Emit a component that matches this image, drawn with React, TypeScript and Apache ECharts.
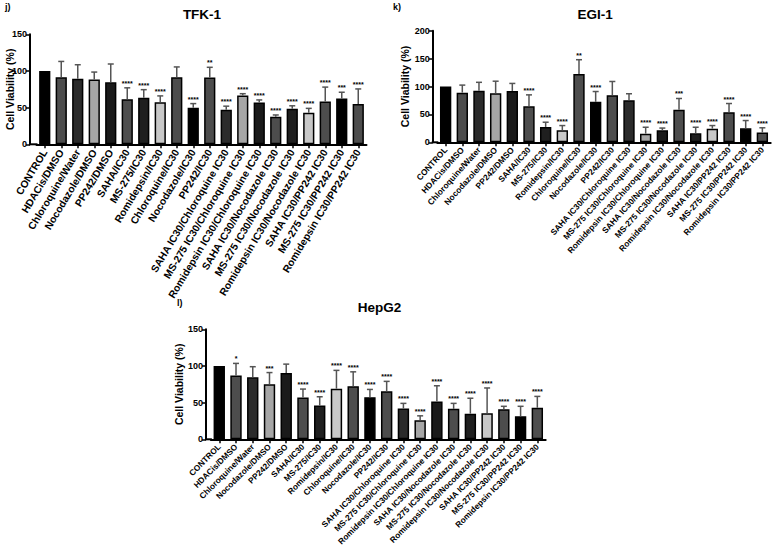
import React, { useEffect, useRef } from "react";
import * as echarts from "echarts";

const categories = [
  "CONTROL",
  "HDACis/DMSO",
  "Chloroquine/Water",
  "Nocodazole/DMSO",
  "PP242/DMSO",
  "SAHA/IC30",
  "MS-275/IC30",
  "Romidepsin/IC30",
  "Chloroquine/IC30",
  "Nocodazole/IC30",
  "PP242/IC30",
  "SAHA IC30/Chloroquine IC30",
  "MS-275 IC30/Chloroquine IC30",
  "Romidepsin IC30/Chloroquine IC30",
  "SAHA IC30/Nocodazole IC30",
  "MS-275 IC30/Nocodazole IC30",
  "Romidepsin IC30/Nocodazole IC30",
  "SAHA IC30/PP242 IC30",
  "MS-275 IC30/PP242 IC30",
  "Romidepsin IC30/PP242 IC30",
];

const barColors = [
  "#000000", "#4d4d4d", "#2b2b2b", "#a6a6a6", "#1a1a1a",
  "#4d4d4d", "#1f1f1f", "#c8c8c8", "#4d4d4d", "#000000",
  "#4d4d4d", "#2b2b2b", "#a6a6a6", "#1a1a1a", "#4d4d4d",
  "#1f1f1f", "#c8c8c8", "#4d4d4d", "#000000", "#4d4d4d",
];

// TFK-1
const tfkMean = [100, 91.5, 89.5, 88.5, 84.5, 61.5, 63.5, 57.5, 91.5, 50, 91, 47, 66.5, 57, 37.5, 48.5, 43, 58.5, 62.5, 55];
const tfkErrTop = [100, 113, 108.5, 98.5, 109.5, 77, 74.5, 66, 105.5, 55.5, 105, 52, 69, 60.5, 40, 52.5, 49, 78, 71, 75.5];
const tfkStars = ["", "", "", "", "", "****", "****", "****", "", "****", "**", "****", "****", "****", "****", "****", "****", "****", "***", "****"];

// EGI-1
const egiMean = [100, 89, 92.5, 88, 92, 64.5, 27.5, 21.5, 122.5, 72.5, 84.5, 75.5, 15.5, 21.5, 58.5, 16, 24.5, 54, 25, 17.5];
const egiErrTop = [100, 102.5, 107.5, 109.5, 105.5, 85, 36, 30, 148, 91, 109, 87, 27, 25.5, 78.5, 27, 30, 69.5, 39, 26];
const egiStars = ["", "", "", "", "", "****", "****", "****", "**", "****", "", "", "****", "****", "***", "****", "****", "****", "****", "****"];

// HepG2
const hepMean = [100, 87, 84.5, 75, 90.5, 57, 46, 69, 72.5, 57.5, 65.5, 42, 26, 51.5, 41.5, 35, 35.5, 41, 31.5, 43];
const hepErrTop = [100, 103.5, 99, 91, 102.5, 68.5, 58, 94, 92, 68, 79, 49, 32, 73, 49, 56, 70, 45, 45, 58.5];
const hepStars = ["", "*", "", "***", "", "****", "****", "****", "****", "****", "****", "****", "****", "****", "****", "****", "****", "****", "****", "****"];

const yTicksTFK = { min: 0, max: 150, interval: 50 };
const yTicksEGI = { min: 0, max: 200, interval: 50 };
const yTicksHep = { min: 0, max: 150, interval: 50 };

const FONT = "'Liberation Sans', Arial, Helvetica, sans-serif";

const panels = [
  { title: "TFK-1", label: "j)", mean: tfkMean, err: tfkErrTop, stars: tfkStars, ticks: yTicksTFK,
    grid: { left: 36.5, top: 34.3, width: 330, height: 110 }, offset: 6.5, nameGap: 15, rotate: 59, fs: 10.3,
    titlePos: { x: 202, y: 7 }, labelPos: { x: 5, y: 2 } },
  { title: "EGI-1", label: "k)", mean: egiMean, err: egiErrTop, stars: egiStars, ticks: yTicksEGI,
    grid: { left: 437.3, top: 30.7, width: 333.4, height: 111.6 }, offset: 4.6, nameGap: 22, rotate: 48, fs: 8.4,
    titlePos: { x: 595, y: 7 }, labelPos: { x: 393, y: 2 } },
  { title: "HepG2", label: "l)", mean: hepMean, err: hepErrTop, stars: hepStars, ticks: yTicksHep,
    grid: { left: 210.9, top: 329.3, width: 334.8, height: 110 }, offset: 4.9, nameGap: 21.5, rotate: 45, fs: 8.3,
    titlePos: { x: 379.5, y: 300 }, labelPos: { x: 177, y: 298 } },
];

export default function App() {
  const ref = useRef<HTMLDivElement>(null);
  useEffect(() => {
    if (!ref.current) return;
    const chart = echarts.init(ref.current, null, { renderer: "svg" });

    const grids: any[] = [];
    const xAxes: any[] = [];
    const yAxes: any[] = [];
    const series: any[] = [];
    const titles: any[] = [];
    const graphics: any[] = [];

    panels.forEach((p, gi) => {
      grids.push({ ...p.grid, containLabel: false, outerBoundsMode: "none" });
      xAxes.push({
        type: "category",
        gridIndex: gi,
        data: categories,
        axisLine: { show: true, lineStyle: { color: "#000", width: 2 } },
        axisTick: { show: true, alignWithLabel: true, length: 4, lineStyle: { color: "#000", width: 1.5 } },
        axisLabel: {
          interval: 0,
          rotate: p.rotate,
          fontSize: p.fs,
          fontWeight: "bold",
          color: "#000",
          fontFamily: FONT,
          margin: 6,
        },
        splitLine: { show: false },
      });
      yAxes.push({
        type: "value",
        gridIndex: gi,
        min: p.ticks.min,
        max: p.ticks.max,
        interval: p.ticks.interval,
        offset: p.offset,
        name: "Cell Viability (%)",
        nameLocation: "middle",
        nameGap: p.nameGap,
        nameMoveOverlap: false,
        nameTextStyle: { fontSize: 10.5, fontWeight: "bold", color: "#000", fontFamily: FONT },
        axisLine: { show: true, lineStyle: { color: "#000", width: 2 } },
        axisTick: { show: true, length: 4, lineStyle: { color: "#000", width: 1.5 } },
        axisLabel: { fontSize: 9, fontWeight: "bold", color: "#000", fontFamily: FONT, margin: 3 },
        splitLine: { show: false },
      });
      series.push({
        type: "bar",
        xAxisIndex: gi,
        yAxisIndex: gi,
        barWidth: "68%",
        data: p.mean.map((v, i) => ({
          value: v,
          itemStyle: { color: barColors[i], borderColor: "#000", borderWidth: 1.5 },
        })),
        z: 2,
      });
      const stars = p.stars;
      series.push({
        type: "custom",
        xAxisIndex: gi,
        yAxisIndex: gi,
        z: 3,
        data: p.mean.map((v, i) => [i, v, p.err[i]]),
        renderItem: (params: any, api: any) => {
          const x = api.value(0);
          const top = api.coord([x, api.value(1)]);
          const e = api.coord([x, api.value(2)]);
          const children: any[] = [];
          const hasErr = api.value(2) > api.value(1);
          if (hasErr) {
            children.push({
              type: "line",
              shape: { x1: top[0], y1: top[1], x2: e[0], y2: e[1] },
              style: { stroke: "#555", lineWidth: 1.5 },
            });
            children.push({
              type: "line",
              shape: { x1: e[0] - 3, y1: e[1], x2: e[0] + 3, y2: e[1] },
              style: { stroke: "#555", lineWidth: 1.5 },
            });
          }
          const s = stars[params.dataIndex];
          if (s) {
            children.push({
              type: "text",
              x: e[0],
              y: e[1] - 1,
              style: {
                text: s,
                fill: "#000",
                fontSize: 7,
                fontWeight: "bold",
                fontFamily: FONT,
                align: "center",
                verticalAlign: "bottom",
              },
            });
          }
          return { type: "group", children };
        },
      });
      titles.push({
        text: p.title,
        left: p.titlePos.x,
        top: p.titlePos.y,
        textAlign: "center",
        padding: 0,
        textStyle: { fontSize: 13.5, fontWeight: "bold", color: "#000", fontFamily: FONT },
      });
      graphics.push({
        type: "text",
        left: p.labelPos.x,
        top: p.labelPos.y,
        style: { text: p.label, fontSize: 9, fontWeight: "bold", fill: "#000", fontFamily: FONT },
      });
    });

    chart.setOption({
      animation: false,
      backgroundColor: "#ffffff",
      title: titles,
      grid: grids,
      xAxis: xAxes,
      yAxis: yAxes,
      series,
      graphic: graphics,
    });

    // extend each x-axis line back to its (offset) y-axis, using the library's own scale
    const extra: any[] = [];
    panels.forEach((p, gi) => {
      const pt = chart.convertToPixel({ gridIndex: gi }, [0, 0]) as number[];
      if (!pt) return;
      const y0 = pt[1];
      extra.push({
        type: "line",
        shape: { x1: p.grid.left - p.offset - 1, y1: y0, x2: p.grid.left + 1, y2: y0 },
        style: { stroke: "#000", lineWidth: 2 },
        z: 10,
      });
    });
    chart.setOption({ graphic: [...graphics, ...extra] });

    return () => chart.dispose();
  }, []);

  return (
    <div
      ref={ref}
      style={{ position: "fixed", left: 0, top: 0, width: 776, height: 553, background: "#fff" }}
    />
  );
}
